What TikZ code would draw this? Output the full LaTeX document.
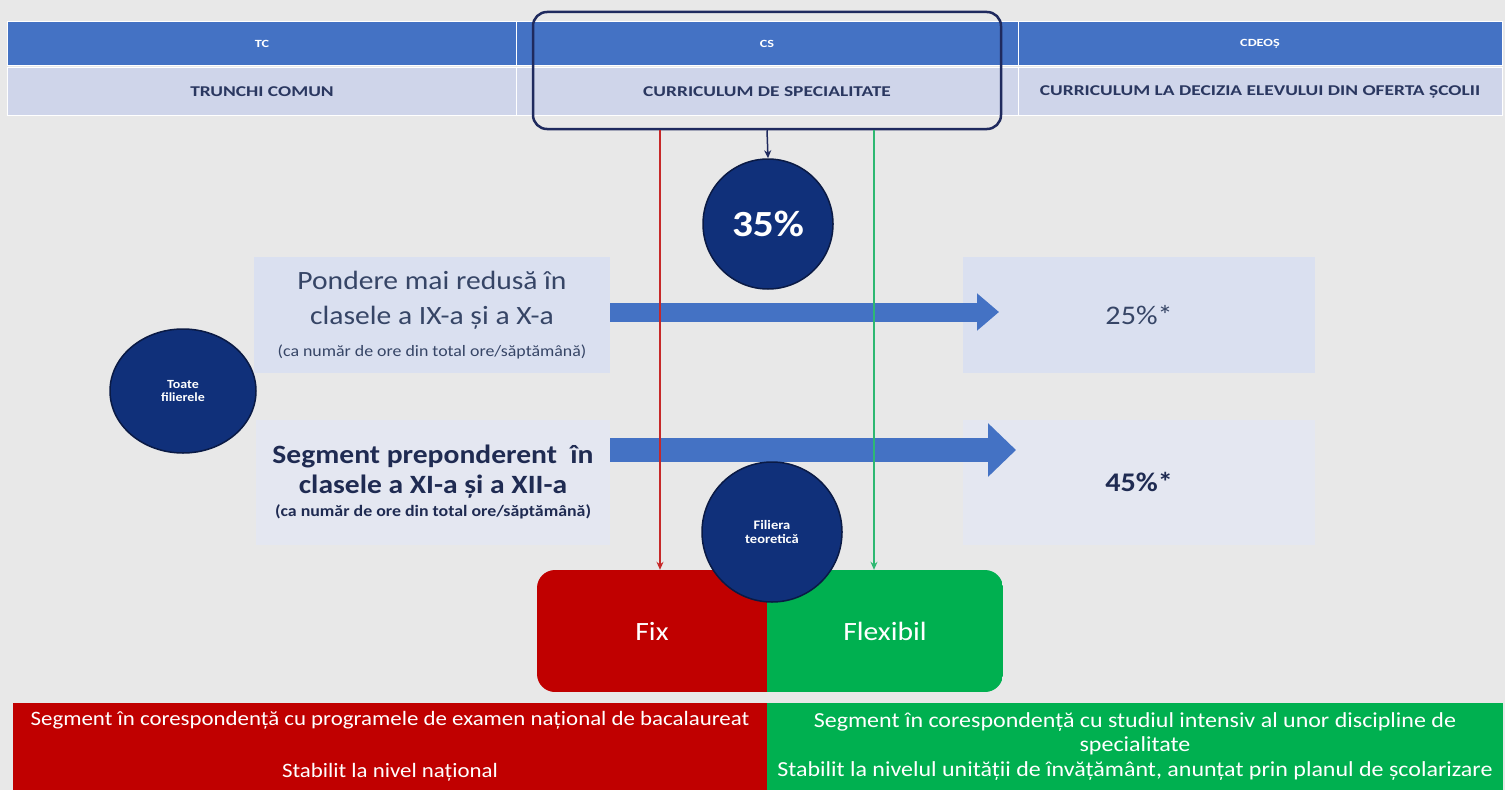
\documentclass[tikz,border=0pt]{standalone}
\usepackage{fontspec}
\setmainfont[FakeStretch=1.12]{Carlito}
\newfontfamily\headfont[FakeStretch=1.3]{Carlito}
\usetikzlibrary{arrows.meta,shapes.geometric}

\definecolor{bggray}{HTML}{E8E8E8}
\definecolor{headblue}{HTML}{4472C4}
\definecolor{sublav}{HTML}{CFD5EA}
\definecolor{navytext}{HTML}{2A3760}
\definecolor{framenavy}{HTML}{1F2A5E}
\definecolor{dotnavy}{HTML}{10307A}
\definecolor{dotedge}{HTML}{0A1A45}
\definecolor{pondfill}{HTML}{DAE0F0}
\definecolor{segfill}{HTML}{E4E7F1}
\definecolor{pondtext}{HTML}{364566}
\definecolor{segtext}{HTML}{1F2B52}
\definecolor{fixred}{HTML}{C00000}
\definecolor{flexgreen}{HTML}{00B050}
\definecolor{fixline}{HTML}{C62828}
\definecolor{flexline}{HTML}{2EB872}

\begin{document}
\begin{tikzpicture}[x=1bp,y=-1bp,
  head cell/.style={draw=white,line width=1bp,fill=headblue,text=white,inner sep=0,
    minimum height=43bp,font=\headfont\bfseries\fontsize{11}{13}\selectfont},
  sub cell/.style={draw=white,line width=1bp,fill=sublav,text=navytext,inner sep=0,
    minimum height=47bp,font=\headfont\bfseries\fontsize{15}{18}\selectfont},
  dark dot/.style={circle,fill=dotnavy,draw=dotedge,line width=1.5bp,text=white,
    inner sep=0,align=center},
  info box/.style={inner sep=0,align=center},
  block arrow/.style={draw=headblue,line width=19bp,-{Triangle[length=22bp,width=36bp]}},
  thin arrow/.style={line width=2bp,-{Stealth[length=8bp,width=7bp]}},
  bar/.style={inner sep=0,align=center,text=white,minimum height=87bp}]

  \fill[bggray] (0,0) rectangle (1505,790);
  \useasboundingbox (0,0) rectangle (1505,790);

  % table head
  \node[head cell,minimum width=508bp] (tc)    at (262,43.5)  {TC};
  \node[head cell,minimum width=502bp] (cs)    at (767,43.5)  {CS};
  \node[head cell,minimum width=484bp] (cdeos) at (1260,43.5) {CDEOȘ};
  \node[sub cell,minimum width=508bp]  (tcname)    at (262,91.5)  {TRUNCHI COMUN};
  \node[sub cell,minimum width=502bp]  (csname)    at (767,91.5)  {CURRICULUM DE SPECIALITATE};
  \node[sub cell,minimum width=484bp]  (cdeosname) at (1260,91.5) {CURRICULUM LA DECIZIA ELEVULUI DIN OFERTA ȘCOLII};
  \node[draw=framenavy,line width=2.5bp,rounded corners=14bp,minimum width=468bp,
    minimum height=117bp] (csframe) at (767,70.5) {};

  \node[dark dot,minimum size=130bp,font=\bfseries\fontsize{37}{40}\selectfont] (pct) at (768,224) {35\%};

  \node[info box,fill=pondfill,text=pondtext,minimum width=356bp,minimum height=116bp,
    font=\fontsize{26.5}{35}\selectfont] (pond) at (432,315)
    {Pondere mai redusă în\\clasele a IX-a și a X-a\\[-3bp]{\fontsize{16}{18}\selectfont (ca număr de ore din total ore/săptămână)}};
  \node[info box,fill=segfill,text=segtext,minimum width=354bp,minimum height=125bp,
    font=\bfseries\fontsize{26.5}{30}\selectfont] (seg) at (433,482)
    {Segment preponderent\ \ în\\clasele a XI-a și a XII-a\\[-6bp]{\fontsize{16}{18}\selectfont (ca număr de ore din total ore/săptămână)}};
  \node[info box,fill=pondfill,text=pondtext,minimum width=352bp,minimum height=116bp,
    font=\fontsize{27}{32}\selectfont] (quarter) at (1139,315) {25\%*};
  \node[info box,fill=segfill,text=segtext,minimum width=352bp,minimum height=125bp,
    font=\bfseries\fontsize{27}{32}\selectfont] (most) at (1139,482) {45\%*};

  \coordinate (uptip)  at (999,312);
  \coordinate (lowtip) at (1016,450);
  \draw[block arrow] (pond.east |- uptip) -- (uptip);
  \draw[block arrow,line width=24bp,-{Triangle[length=28bp,width=52bp]}] (seg.east |- lowtip) -- (lowtip);

  \node[dark dot,ellipse,minimum width=146bp,minimum height=124bp,
    font=\bfseries\fontsize{12.5}{14}\selectfont] (toate) at (183,391) {Toate\\filierele};

  % fix / flexibil
  \begin{scope}
    \clip[rounded corners=18bp] (537,570) rectangle (1003,692);
    \fill[fixred] (537,570) rectangle (767,692);
    \fill[flexgreen] (767,570) rectangle (1003,692);
  \end{scope}
  \node[minimum width=230bp,minimum height=122bp,text=white,font=\fontsize{26.5}{30}\selectfont] (fix)  at (652,631) {Fix};
  \node[minimum width=236bp,minimum height=122bp,text=white,font=\fontsize{26.5}{30}\selectfont] (flex) at (885,631) {Flexibil};

  \coordinate (redx)   at (660,300);
  \coordinate (greenx) at (874,300);
  \path[thin arrow]
    (csframe.south) edge[draw=framenavy,line width=1.5bp] (pct.north)
    (csframe.south -| redx) edge[draw=fixline] (redx |- fix.north)
    (csframe.south -| greenx) edge[draw=flexline] (greenx |- flex.north);

  \node[dark dot,minimum size=140bp,font=\bfseries\fontsize{13}{15}\selectfont] (teor) at (772,532) {Filiera\\teoretică};

  % bottom bars
  \node[bar,fill=fixred,minimum width=754bp,font=\fontsize{20.5}{24}\selectfont] (natl) at (390,746.5)
    {Segment în corespondență cu programele de examen național de bacalaureat\\[28bp]Stabilit la nivel național};
  \node[bar,fill=flexgreen,minimum width=736bp,font=\fontsize{21.5}{25}\selectfont] (local) at (1135,746.5)
    {Segment în corespondență cu studiul intensiv al unor discipline de\\specialitate\\[0bp]Stabilit la nivelul unității de învățământ, anunțat prin planul de școlarizare};
\end{tikzpicture}
\end{document}
